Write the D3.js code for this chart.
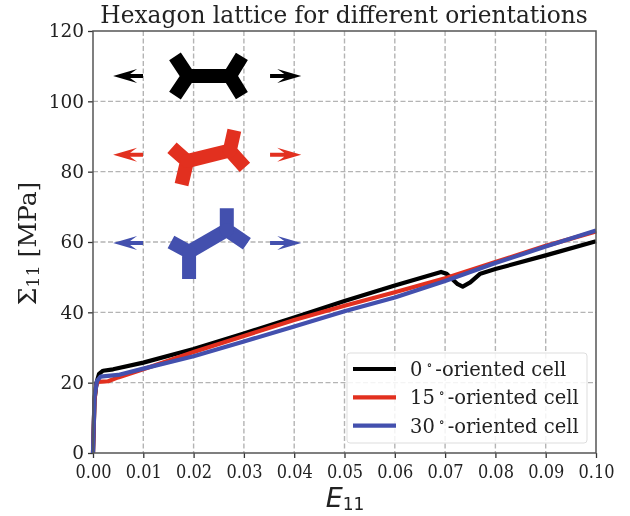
<!DOCTYPE html>
<html><head><meta charset="utf-8">
<script src="https://cdn.jsdelivr.net/npm/d3@7/dist/d3.min.js"></script>
<style>
html,body{margin:0;padding:0;background:#fff}
svg{display:block;filter:blur(0.45px)}
text{font-family:"DejaVu Serif",serif;fill:#222}
</style></head><body><svg id="c" width="630" height="516"></svg>
<script>
const xTicks=[0,0.01,0.02,0.03,0.04,0.05,0.06,0.07,0.08,0.09,0.10];
const yTicks=[0,20,40,60,80,100,120];
const seriesNames=["0$-oriented cell","15$-oriented cell","30$-oriented cell"];
const seriesColors=["#000000","#e2301f","#4350ae"];
const strain0=[0,0.0003,0.0007,0.0012,0.002,0.004,0.01,0.02,0.03,0.04,0.05,0.06,0.0692,0.0703,0.0725,0.0735,0.075,0.077,0.08,0.09,0.1];
const stress0=[0,15,20,22.5,23.4,23.8,25.7,29.6,34,38.5,43.2,47.6,51.5,51,48,47.3,48.5,51,52.3,56.2,60.2];
const strain15=[0,0.0003,0.0006,0.001,0.003,0.005,0.01,0.02,0.03,0.04,0.05,0.06,0.07,0.08,0.09,0.1];
const stress15=[0,15,19,20.2,20.4,21.5,23.8,28.7,33.3,37.8,41.9,45.7,49.7,54.3,58.9,63];
const strain30=[0,0.0003,0.0008,0.0015,0.005,0.01,0.02,0.03,0.04,0.05,0.06,0.07,0.08,0.09,0.1];
const stress30=[0,16,20.5,21.7,22.2,24,27.5,31.7,36,40.3,44.2,48.9,54,58.7,63.3];
// hexagon-cell glyphs in axis units: [node, arm end, arm end] for each side
const cell0=[[[0.0189,107.2],[0.0163,112.8],[0.0163,101.6]],[[0.0272,107.2],[0.0296,112.8],[0.0296,101.6]]];
const cell15=[[[0.0187,83.0],[0.0157,86.8],[0.0176,76.3]],[[0.0272,86.0],[0.0281,91.8],[0.0302,81.2]]];
const cell30=[[[0.0191,57.2],[0.0155,60.0],[0.0191,49.5]],[[0.0266,63.4],[0.0266,69.6],[0.0306,59.5]]];
const arrowY=[107.2,84.8,59.7];
const arrowLeft=[0.00994,0.004];
const arrowRight=[0.0352,0.0414];

const svg=d3.select("#c");
const L=93,R=596,T=31,B=453;
const x=d3.scaleLinear().domain([0,0.1]).range([L,R]);
const y=d3.scaleLinear().domain([0,120]).range([B,T]);

// grid
const grid=svg.append("g").attr("stroke","#b4b4b4").attr("stroke-width",1.4).attr("stroke-dasharray","5,2.5").attr("fill","none");
grid.selectAll(".gx").data(xTicks.slice(1,-1)).join("line").attr("x1",d=>x(d)).attr("x2",d=>x(d)).attr("y1",T).attr("y2",B);
grid.selectAll(".gy").data(yTicks.slice(1,-1)).join("line").attr("x1",L).attr("x2",R).attr("y1",d=>y(d)).attr("y2",d=>y(d));

// axes
const ax=svg.append("g").attr("transform",`translate(0,${B})`).call(d3.axisBottom(x).tickValues(xTicks).tickFormat(d3.format(".2f")).tickSize(5).tickPadding(3));
const ay=svg.append("g").attr("transform",`translate(${L},0)`).call(d3.axisLeft(y).tickValues(yTicks).tickSize(5).tickPadding(4));
[ax,ay].forEach(a=>{a.select(".domain").remove();a.selectAll("line").attr("stroke","#333").attr("stroke-width",1.3);a.selectAll("text").style("fill","#222");});
ax.selectAll("text").attr("font-size",16.2).attr("y",10.2).attr("transform","scale(1,1.15)").style("font-family",'"DejaVu Serif",serif');
ay.selectAll("text").attr("font-size",18.5).style("font-family",'"DejaVu Serif",serif');

// glyphs
function drawCell(cell,color){
  const g=svg.append("g").attr("stroke",color).attr("stroke-width",14).attr("fill","none").attr("stroke-linejoin","miter");
  g.append("line").attr("x1",x(cell[0][0][0])).attr("y1",y(cell[0][0][1])).attr("x2",x(cell[1][0][0])).attr("y2",y(cell[1][0][1]));
  cell.forEach(side=>{
    g.append("path").attr("d",d3.line().x(d=>x(d[0])).y(d=>y(d[1]))([side[1],side[0],side[2]]));
    g.append("circle").attr("cx",x(side[0][0])).attr("cy",y(side[0][1])).attr("r",7).attr("fill",color).attr("stroke","none");
  });
}
drawCell(cell0,seriesColors[0]);drawCell(cell15,seriesColors[1]);drawCell(cell30,seriesColors[2]);
function drawArrow(xTail,xTip,yv,color){
  const t=x(xTail),p=x(xTip),c=y(yv),s=p>t?1:-1;
  svg.append("path").attr("fill",color)
   .attr("d",`M${p},${c}L${p-s*24},${c-7}L${p-s*17},${c-2}L${t},${c-2}L${t},${c+2}L${p-s*17},${c+2}L${p-s*24},${c+7}Z`);
}
arrowY.forEach((v,i)=>{drawArrow(arrowLeft[0],arrowLeft[1],v,seriesColors[i]);drawArrow(arrowRight[0],arrowRight[1],v,seriesColors[i]);});

// curves
const line=d3.line().x(d=>x(d[0])).y(d=>y(d[1]));
[[strain0,stress0],[strain15,stress15],[strain30,stress30]].forEach((s,i)=>{
  svg.append("path").attr("d",line(s[0].map((v,k)=>[v,s[1][k]]))).attr("fill","none")
   .attr("stroke",seriesColors[i]).attr("stroke-width",4.2).attr("stroke-linejoin","round");
});

// spines
svg.append("rect").attr("x",L).attr("y",T).attr("width",R-L).attr("height",B-T).attr("fill","none").attr("stroke","#555").attr("stroke-width",1.5);

// legend
const lg=svg.append("g");
lg.append("rect").attr("x",347).attr("y",353).attr("width",240).attr("height",90).attr("rx",3).attr("fill","#fff").attr("fill-opacity",0.85).attr("stroke","#ddd").attr("stroke-width",1);
seriesNames.forEach((n,i)=>{
  const yy=369+i*28.3;
  lg.append("line").attr("x1",353).attr("x2",396).attr("y1",yy).attr("y2",yy).attr("stroke",seriesColors[i]).attr("stroke-width",4.2);
  const parts=n.split("$");
  const t=lg.append("text").attr("x",410).attr("y",yy+7).attr("font-size",19.5);
  t.append("tspan").text(parts[0]);
  t.append("tspan").attr("font-size",12).attr("dx",4).attr("dy",-7).text("∘");
  t.append("tspan").attr("dx",3).attr("dy",7).text(parts[1]);
});

// title
svg.append("text").attr("x",344).attr("y",22.5).attr("text-anchor","middle").attr("font-size",23.3).text("Hexagon lattice for different orientations");
// x label
const xl=svg.append("text").attr("x",345).attr("y",507).attr("text-anchor","middle").attr("font-size",27).style("font-family",'"DejaVu Sans",sans-serif');
xl.append("tspan").attr("font-style","italic").text("E");
xl.append("tspan").attr("font-size",17).attr("dy",3).text("11");
// y label
const yl=svg.append("text").attr("transform","translate(36,243.5) rotate(-90)").attr("text-anchor","middle").attr("font-size",25);
yl.append("tspan").text("Σ");
yl.append("tspan").attr("font-size",17.5).attr("dy",3).text("11");
yl.append("tspan").attr("dy",-3).attr("dx",8).text("[MPa]");
</script></body></html>
